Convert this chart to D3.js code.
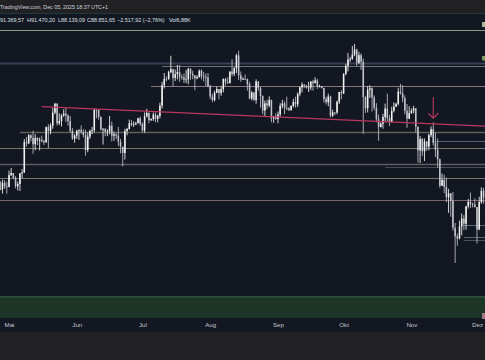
<!DOCTYPE html>
<html>
<head>
<meta charset="utf-8">
<script src="https://cdn.jsdelivr.net/npm/d3@7"></script>
<style>
html, body { margin: 0; padding: 0; background: #212124; }
svg { display: block; font-family: "Liberation Sans", Arial, sans-serif; }
</style>
</head>
<body>
<svg id="chart" width="485" height="360"></svg>
<script>
// daily candles, thousands of USD, first day = startDay
const startDay = "2025-04-27";
const firstOpen = 93.7;
const closes = [
  93.75, 94.98, 94.28, 94.20,
  96.49, 96.91, 95.89, 94.31, 94.75, 96.83, 97.03, 103.24, 102.97, 104.70,
  104.12, 102.79, 104.11, 103.54, 103.74, 103.49, 103.19, 106.45, 105.61, 106.79,
  109.67, 111.67, 107.29, 107.79, 109.04, 109.44, 108.99, 107.80, 105.64, 103.99, 104.64,
  105.65, 105.88, 105.43, 104.73, 101.58, 104.39, 105.62, 105.79, 110.28, 110.26,
  108.69, 105.93, 106.09, 105.47, 105.55, 106.79, 104.60, 104.88, 104.63, 103.31,
  102.26, 100.96, 105.58, 106.05, 107.32, 106.95, 107.05, 107.30, 108.39, 107.14,
  105.70, 108.82, 109.59, 107.98, 108.21, 109.23, 108.26, 108.92, 111.23, 115.99,
  117.52, 117.44, 119.12, 119.84, 117.74, 118.63, 119.18, 117.92, 117.84, 117.27,
  117.38, 119.95, 118.76, 118.35, 117.64, 117.95, 119.45, 118.08, 117.92, 117.84, 115.76,
  113.32, 112.53, 114.21, 115.07, 114.14, 115.03, 117.50, 116.69, 116.47, 119.29,
  118.69, 120.14, 123.31, 118.36, 117.40, 117.49, 117.45, 116.25, 112.87, 114.27,
  112.50, 116.87, 115.37, 113.46, 110.12, 111.76, 111.26, 112.55, 108.40, 108.81, 108.24,
  109.25, 111.20, 111.72, 110.72, 110.65, 110.22, 111.17, 112.07, 111.55, 113.96,
  115.51, 116.10, 115.95, 115.41, 115.44, 116.84, 116.47, 117.14, 115.69, 115.71,
  115.30, 112.75, 112.01, 113.33, 108.99, 109.71, 109.68, 112.12, 114.40, 114.05,
  118.65, 120.68, 122.27, 122.39, 123.51, 124.75, 121.45, 123.35, 121.70, 113.21,
  110.64, 114.94, 115.27, 113.12, 110.76, 108.19, 106.47, 107.20, 108.68, 110.58,
  108.40, 107.57, 110.07, 111.03, 111.65, 114.47, 114.12, 112.95, 110.07, 108.31, 109.56,
  110.06, 110.64, 106.55, 101.50, 103.89, 101.30, 103.37, 102.28, 104.72, 105.99,
  103.06, 101.65, 99.69, 94.40, 95.55, 94.18, 92.22, 92.96, 91.55, 86.64,
  85.13, 84.74, 86.83, 88.27, 87.34, 90.52, 91.33, 90.92, 90.85, 90.39,
  86.32, 91.29, 93.45, 92.14, 88.85
];
const highs = [
  95.3, 95.6, 95.5, 95.2,
  97.4, 97.9, 96.9, 96.3, 95.2, 96.9, 97.7, 103.9, 104.3, 104.9,
  104.9, 105.7, 104.9, 104.3, 104.2, 104.6, 103.7, 106.6, 107.1, 107.3,
  110.7, 111.9, 111.8, 109.5, 109.3, 110.4, 110.7, 109.3, 108.9, 106.3, 104.9,
  105.9, 105.9, 106.8, 106.0, 105.9, 105.3, 105.9, 106.5, 110.6, 110.4,
  110.4, 108.8, 106.2, 106.2, 106.0, 108.9, 107.7, 105.5, 105.2, 106.5,
  103.9, 102.0, 106.1, 106.3, 108.1, 108.0, 107.7, 107.6, 108.5, 108.8,
  107.5, 109.7, 110.5, 109.7, 108.4, 109.7, 109.7, 109.2, 111.9, 116.8,
  118.9, 118.1, 119.5, 123.2, 120.0, 119.8, 120.9, 120.9, 118.6, 118.8,
  119.7, 120.2, 120.1, 119.5, 118.4, 118.4, 119.8, 119.8, 119.2, 118.8, 118.9,
  116.1, 114.0, 114.7, 115.7, 115.1, 115.7, 117.6, 117.7, 117.9, 119.3,
  122.3, 120.3, 123.7, 124.5, 119.3, 117.9, 118.6, 117.6, 116.8, 114.6,
  114.4, 117.4, 117.0, 115.6, 113.6, 112.4, 112.6, 113.4, 112.6, 108.9, 109.5,
  109.9, 111.8, 112.6, 112.2, 113.3, 110.9, 111.3, 112.8, 113.3, 114.3,
  115.6, 116.7, 116.3, 116.0, 116.8, 117.0, 117.3, 117.9, 117.5, 116.1,
  115.8, 115.4, 113.3, 114.0, 113.5, 110.3, 109.7, 112.4, 114.4, 114.8,
  118.9, 121.1, 123.9, 122.9, 125.7, 126.2, 125.0, 124.2, 123.8, 122.5,
  113.4, 115.8, 116.0, 115.5, 113.6, 111.8, 109.2, 107.5, 109.4, 111.7,
  114.0, 109.1, 111.0, 112.0, 111.9, 115.4, 116.3, 116.0, 113.6, 111.6, 111.1,
  110.6, 111.2, 110.7, 106.6, 104.5, 104.1, 104.0, 103.4, 105.0, 106.6,
  107.5, 105.3, 104.0, 99.8, 96.8, 96.6, 96.0, 93.8, 93.0, 93.2,
  87.5, 85.6, 87.9, 89.2, 88.9, 90.6, 91.9, 93.1, 91.2, 92.0,
  90.4, 92.3, 94.1, 94.0, 92.7
];
const lows = [
  93.6, 92.9, 93.8, 92.9,
  94.1, 96.3, 95.7, 93.9, 93.5, 93.4, 95.9, 96.9, 102.3, 102.8,
  103.4, 100.8, 101.5, 102.6, 101.5, 103.1, 102.6, 103.1, 102.0, 104.9,
  106.1, 109.3, 106.8, 106.9, 106.6, 108.7, 107.6, 106.8, 105.3, 103.7, 103.1,
  103.9, 103.7, 105.0, 104.2, 100.4, 101.1, 103.9, 104.9, 105.3, 108.4,
  108.1, 105.7, 102.7, 104.5, 104.5, 104.9, 103.4, 103.5, 103.9, 102.4,
  100.9, 98.2, 99.6, 104.7, 105.9, 106.6, 106.5, 106.9, 107.3, 106.7,
  105.3, 105.2, 108.6, 107.3, 107.8, 107.8, 107.5, 107.5, 108.4, 110.6,
  115.2, 116.9, 117.3, 118.9, 115.7, 117.0, 117.4, 116.8, 117.3, 116.5,
  116.5, 116.2, 117.3, 117.4, 114.8, 117.4, 117.8, 117.4, 116.9, 115.8, 115.5,
  112.7, 112.0, 112.2, 114.1, 112.7, 113.5, 114.3, 115.9, 116.3, 116.5,
  118.1, 118.2, 118.9, 117.2, 116.8, 117.2, 117.3, 114.7, 112.7, 112.4,
  112.4, 111.7, 114.6, 110.8, 109.3, 108.7, 110.4, 110.9, 107.5, 107.4, 108.1,
  107.3, 108.7, 110.6, 109.3, 110.2, 110.0, 110.1, 110.8, 110.8, 110.9,
  113.4, 114.3, 115.3, 115.2, 114.4, 114.8, 114.7, 116.6, 115.1, 115.5,
  115.2, 111.9, 111.5, 111.1, 108.6, 108.7, 109.1, 109.3, 111.6, 112.7,
  113.9, 118.4, 119.3, 121.6, 122.2, 123.1, 120.6, 121.1, 119.7, 105.0,
  109.6, 109.7, 113.0, 109.9, 110.2, 107.5, 103.5, 106.4, 106.1, 107.5,
  107.5, 106.7, 107.5, 109.7, 110.9, 111.3, 113.8, 112.0, 109.3, 106.3, 108.2,
  109.4, 109.5, 105.3, 99.0, 98.9, 100.3, 99.3, 101.4, 101.5, 104.3,
  102.5, 100.1, 98.0, 94.0, 94.6, 93.0, 91.3, 89.3, 88.6, 86.1,
  80.6, 83.5, 84.6, 85.3, 86.2, 86.3, 90.1, 90.2, 90.3, 90.3,
  83.9, 86.2, 91.0, 91.0, 88.1
];

const monthTicks = ["2025-05-01", "2025-06-01", "2025-07-01", "2025-08-01",
                    "2025-09-01", "2025-10-01", "2025-11-01", "2025-12-01"];
const monthLabels = ["Mai", "Jun", "Jul", "Aug", "Sep", "Okt", "Nov", "Dez"];

// horizontal levels (USD) and the day each one starts
const levelPrices = [129900, 121400, 120700, 115800, 105450, 103400, 101950,
                     98700, 98050, 95900, 91650, 87100, 85000, 84450];
const levelStarts = ["2025-04-20", "2025-04-20", "2025-07-10", "2025-07-05", "2025-05-06",
                     "2025-11-11", "2025-04-20", "2025-04-20", "2025-10-20", "2025-04-20",
                     "2025-04-20", "2025-11-25", "2025-11-25", "2025-11-25"];

const trendDates = ["2025-05-16", "2025-12-05"];
const trendPrices = [111000, 106650];
const arrowDate = "2025-11-11";
const arrowPrices = [113200, 108400];
const zonePrices = [75200, 72150];

const headerTitle = "TradingView.com, Dec 05, 2025 18:37 UTC+1";
const ohlcLabels = ["91.369,57", "H91.470,20", "L88.139,09", "C88.851,65", "\u22122.517,92 (\u22122,76%)", "Vol6,88K"];

// ---------------------------------------------------------------

const W = 485, H = 360;
const plotTop = 14, plotBottom = 318;
const parseDay = d3.utcParse("%Y-%m-%d");

const candles = closes.map((c, i) => {
    let o = i === 0 ? firstOpen : closes[i - 1];
    return {
        date: d3.utcDay.offset(parseDay(startDay), i),
        o: o * 1000,
        c: c * 1000,
        h: Math.max(highs[i], o, c) * 1000,
        l: Math.min(lows[i], o, c) * 1000
    };
});

const x = d3.scaleUtc()
    .domain([parseDay("2025-05-01"), parseDay("2025-12-01")])
    .range([9, 477]);
const y = d3.scaleLog()
    .domain([80600, 126200])
    .range([263, 44]);

const svg = d3.select("#chart");

svg.append("rect").attr("width", W).attr("height", H).attr("fill", "#212124");
svg.append("rect").attr("x", 0).attr("y", plotTop).attr("width", W).attr("height", 332 - plotTop)
    .attr("fill", "#131722");
svg.append("line").attr("x1", 0).attr("x2", W).attr("y1", 13.5).attr("y2", 13.5)
    .attr("stroke", "#1e3b3c").attr("stroke-width", 1.2);

svg.append("clipPath").attr("id", "plot")
    .append("rect").attr("x", 0).attr("y", plotTop).attr("width", W).attr("height", plotBottom - plotTop);

const plot = svg.append("g").attr("clip-path", "url(#plot)");

// support zone
plot.append("rect")
    .attr("x", 0).attr("width", W)
    .attr("y", y(zonePrices[0]))
    .attr("height", y(zonePrices[1]) - y(zonePrices[0]) + 2)
    .attr("fill", "#1d3527");
plot.append("line")
    .attr("x1", 0).attr("x2", W)
    .attr("y1", y(zonePrices[0])).attr("y2", y(zonePrices[0]))
    .attr("stroke", "#3a6b4d").attr("stroke-width", 1);

// levels
const levelStyle = [
    ["#8e957f", 1], ["#394154", 2], ["#6f7174", 1], ["#8a787d", 1],
    ["#5d6158", 1.5], ["#4f6079", 1], ["#7a756c", 1], ["#5c5d61", 1.5],
    ["#4c4e53", 1], ["#79716a", 1], ["#7b6367", 1], ["#566a76", 1],
    ["#566a76", 1], ["#47525d", 1]
];
plot.append("g").selectAll("line")
    .data(levelPrices)
    .join("line")
    .attr("x1", (d, i) => Math.max(0, x(parseDay(levelStarts[i]))))
    .attr("x2", W)
    .attr("y1", d => Math.round(y(d)) + 0.5)
    .attr("y2", d => Math.round(y(d)) + 0.5)
    .attr("stroke", (d, i) => levelStyle[i][0])
    .attr("stroke-width", (d, i) => levelStyle[i][1]);

// candles
const day = x(parseDay("2025-05-02")) - x(parseDay("2025-05-01"));
const bodyW = day * 0.7;
const gCandle = plot.append("g").selectAll("g")
    .data(candles)
    .join("g")
    .attr("class", "candle");
gCandle.append("line")
    .attr("x1", d => x(d.date)).attr("x2", d => x(d.date))
    .attr("y1", d => y(d.h)).attr("y2", d => y(d.l))
    .attr("stroke", d => d.c >= d.o ? "#e6e6e6" : "#b5b8be")
    .attr("stroke-width", 0.9);
gCandle.append("rect")
    .attr("x", d => x(d.date) - bodyW / 2)
    .attr("width", bodyW)
    .attr("y", d => y(Math.max(d.o, d.c)))
    .attr("height", d => Math.max(0.8, Math.abs(y(d.o) - y(d.c))))
    .attr("fill", d => d.c >= d.o ? "#f2f2f2" : "#bfc2c8");

// trend line
plot.append("path")
    .attr("d", d3.line()(trendDates.map((d, i) => [x(parseDay(d)), y(trendPrices[i])])))
    .attr("stroke", "#b8375e").attr("stroke-width", 1.3).attr("fill", "none");

// arrow
const ax = x(parseDay(arrowDate));
const ay0 = y(arrowPrices[0]), ay1 = y(arrowPrices[1]);
plot.append("path")
    .attr("d", `M${ax},${ay0}L${ax},${ay1}M${ax - 5},${ay1 - 5}L${ax},${ay1}L${ax + 5},${ay1 - 5}`)
    .attr("stroke", "#b8375e").attr("stroke-width", 1.1).attr("fill", "none");

// cropped price labels at the right edge
svg.append("rect").attr("x", 482).attr("y", 22).attr("width", 3).attr("height", 5).attr("fill", "#a9b596");
svg.append("rect").attr("x", 482).attr("y", 56).attr("width", 3).attr("height", 4.5).attr("fill", "#7c9a64");
svg.append("rect").attr("x", 482).attr("y", 313).attr("width", 3).attr("height", 6).attr("fill", "#a07480");

// x axis
const xAxis = d3.axisBottom(x)
    .tickValues(monthTicks.map(parseDay))
    .tickFormat((d, i) => monthLabels[i])
    .tickSize(0)
    .tickPadding(0);
svg.append("g")
    .attr("transform", "translate(0,323)")
    .call(xAxis)
    .call(g => g.select(".domain").remove())
    .call(g => g.selectAll("text")
        .attr("fill", "#c3c6ce")
        .attr("font-size", 6.2)
        .attr("font-family", "Liberation Sans, Arial, sans-serif"));

// header
svg.append("text").attr("x", 0).attr("y", 8.5).attr("fill", "#d1d4dc")
    .attr("font-size", 6.2)
    .attr("textLength", 108).attr("lengthAdjust", "spacingAndGlyphs")
    .text(headerTitle);
const ohlcX = [0, 27, 58, 87, 117, 169];
svg.append("g").selectAll("text")
    .data(ohlcLabels)
    .join("text")
    .attr("x", (d, i) => ohlcX[i])
    .attr("y", 21.5)
    .attr("fill", "#dfe1e6")
    .attr("font-size", 5.4)
    .text(d => d);
</script>
</body>
</html>
